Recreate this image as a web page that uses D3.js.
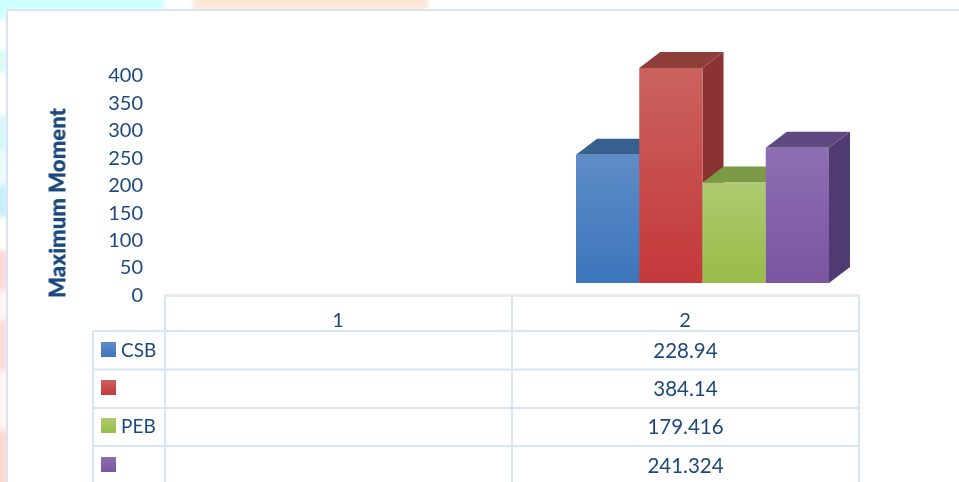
<!DOCTYPE html>
<html><head><meta charset="utf-8">
<script src="https://cdnjs.cloudflare.com/ajax/libs/d3/7.8.5/d3.min.js"></script>
<style>html,body{margin:0;padding:0;background:#fff;overflow:hidden}svg{display:block}text{font-family:Lato,"Open Sans",sans-serif;fill:#1f497d}</style>
</head><body><svg id="c" width="959" height="482"></svg>
<script>
const categories = ["1", "2"];
const seriesNames = ["CSB", "", "PEB", ""];
const seriesValues = [228.94, 384.14, 179.416, 241.324];
const tickLabels = [0, 50, 100, 150, 200, 250, 300, 350, 400];
const axisTitle = "Maximum Moment";
const frontTop = ["#5f8dc8", "#c9625e", "#aeca70", "#8c6fb2"];
const frontBottom = ["#3c75bb", "#c5383a", "#98bc48", "#7a55a0"];
const sideColors = ["#2f5a8f", "#8b3330", "#6f8c38", "#4f3a70"];
const topColors = ["#37608f", "#8f3d39", "#7a9a45", "#5e4a80"];

const svg = d3.select("#c");
const W = 959, H = 482;
const line = "#d6e4f6", ink = "#1f497d";
const defs = svg.append("defs");
defs.append("filter").attr("id", "soft").attr("x", "-5%").attr("y", "-5%").attr("width", "110%").attr("height", "110%")
  .append("feGaussianBlur").attr("stdDeviation", 0.45);
defs.append("filter").attr("id", "wash").append("feGaussianBlur").attr("stdDeviation", 2.5);
seriesNames.forEach((_, i) => {
  const g = defs.append("linearGradient").attr("id", "g" + i).attr("x1", 0).attr("x2", 0).attr("y1", 0).attr("y2", 1);
  g.append("stop").attr("offset", "0%").attr("stop-color", frontTop[i]);
  g.append("stop").attr("offset", "100%").attr("stop-color", frontBottom[i]);
});

// faded page background behind the chart frame
const wash = svg.append("g").attr("filter", "url(#wash)");
[[-6,-6,170,16,"#ccffff"],[193,-6,235,16,"#fde8d8"],[-8,-6,16,25,"#ccffff"],[-8,50,16,22,"#dcfbf8"],
 [-8,115,16,35,"#d8f6f8"],[-8,150,16,35,"#eafbfc"],[-8,185,16,32,"#c9eefa"],[-8,250,16,40,"#fdd9d6"],[-8,290,16,30,"#fff4f0"],
 [-8,320,16,50,"#fddcd8"],[-8,370,16,60,"#fff4f2"],[-8,430,16,60,"#fdd5d0"]].forEach(r => wash.append("rect")
  .attr("x", r[0]).attr("y", r[1]).attr("width", r[2]).attr("height", r[3]).attr("fill", r[4]));
svg.append("rect").attr("x", 7).attr("y", 10).attr("width", W).attr("height", H).attr("fill", "#fff")
  .attr("stroke", line).attr("stroke-width", 2);

const root = svg.append("g").attr("filter", "url(#soft)");

// scales
const xCat = d3.scaleBand().domain(categories).range([165, 859]);
const xBar = d3.scaleBand().domain(d3.range(seriesValues.length)).range([576, 829]);
const yBar = d3.scaleLinear().domain([0, 400]).range([283, 59]);
const yTick = d3.scaleLinear().domain([0, 400]).range([295, 75.5]);
const dx = 21, dy = 16;

// value axis labels
const ax = root.append("g").attr("transform", "translate(143,0)")
  .call(d3.axisLeft(yTick).tickValues(tickLabels).tickSize(0).tickPadding(0));
ax.select(".domain").remove();
ax.selectAll("text").style("font-size", "20px").style("font-family", "Lato").attr("fill", ink);

root.append("text").attr("transform", "translate(65.5,203) rotate(-90)").attr("text-anchor", "middle")
  .style("font-size", "22px").style("font-weight", 800).text(axisTitle);

// bars
const bars = root.append("g").selectAll("g").data(seriesValues).join("g");
bars.each(function (v, i) {
  const g = d3.select(this), x0 = xBar(i), x1 = x0 + xBar.bandwidth(), yT = yBar(v), yB = yBar(0);
  g.append("path").attr("fill", sideColors[i])
    .attr("d", d3.line()([[x1, yT], [x1 + dx, yT - dy], [x1 + dx, yB - dy], [x1, yB]]) + "Z");
  g.append("path").attr("fill", topColors[i])
    .attr("d", d3.line()([[x0, yT], [x0 + dx, yT - dy], [x1 + dx, yT - dy], [x1, yT]]) + "Z");
  g.append("rect").attr("x", x0).attr("y", yT).attr("width", x1 - x0).attr("height", yB - yT)
    .attr("fill", `url(#g${i})`);
});

// data table
const rowTops = [331, 369.5, 408, 446];
const rowMid = [351, 389, 427, 466];
const tbl = root.append("g").attr("stroke", line).attr("stroke-width", 2);
rowTops.forEach(y => tbl.append("line").attr("x1", 93).attr("x2", 859).attr("y1", y).attr("y2", y));
tbl.append("line").attr("x1", 93).attr("x2", 93).attr("y1", 331).attr("y2", H);
[165, 512, 859].forEach(x => tbl.append("line").attr("x1", x).attr("x2", x).attr("y1", 295).attr("y2", H));
root.append("line").attr("x1", 165).attr("x2", 859).attr("y1", 295.5).attr("y2", 295.5)
  .attr("stroke", "#e6eaee").attr("stroke-width", 3);

root.selectAll(".cat").data(categories).join("text").attr("class", "cat")
  .attr("x", d => xCat(d) + xCat.bandwidth() / 2 - 0.5).attr("y", 327).attr("text-anchor", "middle")
  .style("font-size", "20px").text(d => d);

root.selectAll(".val").data(seriesValues).join("text").attr("class", "val")
  .attr("x", xCat("2") + xCat.bandwidth() / 2).attr("y", (d, i) => rowMid[i] + 7).attr("text-anchor", "middle")
  .style("font-size", "20.5px").text(d => d);

root.selectAll(".sw").data(seriesNames).join("rect").attr("class", "sw")
  .attr("x", 101).attr("y", (d, i) => rowMid[i] - 9).attr("width", 15).attr("height", 15)
  .attr("fill", (d, i) => `url(#g${i})`);

root.selectAll(".nm").data(seriesNames).join("text").attr("class", "nm")
  .attr("x", 121).attr("y", (d, i) => rowMid[i] + 6).style("font-size", "19px").text(d => d);
</script></body></html>
